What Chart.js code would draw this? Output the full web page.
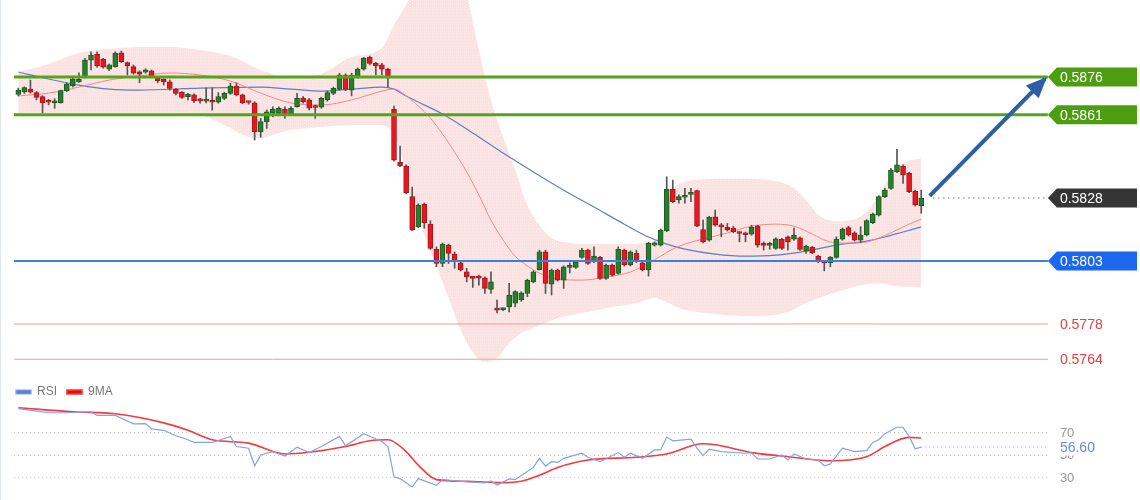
<!DOCTYPE html>
<html>
<head>
<meta charset="utf-8">
<script src="https://cdn.jsdelivr.net/npm/chart.js@4.4.1/dist/chart.umd.min.js"></script>
<style>
  html, body { margin: 0; padding: 0; background: #fff; }
  #contenedor { position: relative; width: 1140px; height: 500px; overflow: hidden; background: #fff; }
  #contenedor::before { content: ''; position: absolute; left: 0; top: 0; bottom: 0; width: 1px; background: #e3e8ee; z-index: 2; }
  #grafica_precio { position: absolute; left: 0; top: 0; }
  #grafica_rsi { position: absolute; left: 0; top: 380px; }
</style>
</head>
<body>
<div id="contenedor">
  <canvas id="grafica_precio" width="1140" height="380"></canvas>
  <canvas id="grafica_rsi" width="1140" height="120"></canvas>
</div>
<script>
// Velas (una por periodo)
const aperturas = [
  0.58691,0.58702,0.58712,0.58698,0.58682,0.58663,0.58658,0.58658,0.58706,0.58725,
  0.58741,0.58757,0.58827,0.58851,0.58831,0.58791,0.58801,0.58856,0.58817,0.58801,
  0.58781,0.58779,0.58785,0.58755,0.58751,0.58741,0.58711,0.58699,0.58682,0.58689,
  0.58668,0.58664,0.58665,0.58660,0.58675,0.58695,0.58724,0.58689,0.58661,0.58658,
  0.58543,0.58583,0.58616,0.58616,0.58632,0.58613,0.58642,0.58675,0.58669,0.58641,
  0.58640,0.58669,0.58695,0.58711,0.58768,0.58708,0.58759,0.58791,0.58838,0.58814,
  0.58808,0.58791,0.58632,0.58421,0.58407,0.58285,0.58166,0.58256,0.58176,0.58076,
  0.58020,0.58093,0.58057,0.58023,0.57987,0.57967,0.57964,0.57963,0.57917,0.57842,
  0.57837,0.57848,0.57862,0.57875,0.57901,0.57947,0.57994,0.58066,0.57938,0.57994,
  0.57954,0.58004,0.58004,0.58044,0.58073,0.58027,0.58044,0.57961,0.58014,0.57981,
  0.58073,0.58014,0.58060,0.58023,0.57994,0.58093,0.58093,0.58150,0.58314,0.58272,
  0.58283,0.58294,0.58309,0.58155,0.58113,0.58205,0.58168,0.58163,0.58159,0.58141,
  0.58136,0.58136,0.58168,0.58094,0.58092,0.58080,0.58116,0.58126,0.58116,0.58122,
  0.58070,0.58084,0.58049,0.58024,0.58023,0.58044,0.58116,0.58162,0.58142,0.58113,
  0.58133,0.58182,0.58212,0.58285,0.58318,0.58384,0.58407,0.58378,0.58307,0.58249
];
const maximos = [
  0.58716,0.58721,0.58748,0.58702,0.58686,0.58671,0.58674,0.58708,0.58737,0.58757,
  0.58777,0.58834,0.58860,0.58860,0.58834,0.58812,0.58860,0.58863,0.58820,0.58808,
  0.58785,0.58793,0.58788,0.58759,0.58753,0.58748,0.58715,0.58702,0.58695,0.58693,
  0.58675,0.58716,0.58716,0.58698,0.58700,0.58735,0.58737,0.58692,0.58662,0.58662,
  0.58596,0.58629,0.58642,0.58642,0.58642,0.58643,0.58695,0.58682,0.58675,0.58649,
  0.58680,0.58704,0.58720,0.58775,0.58773,0.58775,0.58796,0.58838,0.58843,0.58818,
  0.58814,0.58795,0.58645,0.58486,0.58411,0.58323,0.58257,0.58260,0.58190,0.58086,
  0.58101,0.58097,0.58066,0.58027,0.58001,0.57969,0.57974,0.57967,0.57987,0.57875,
  0.57843,0.57941,0.57912,0.57908,0.57958,0.57991,0.58073,0.58073,0.57998,0.57998,
  0.58011,0.58022,0.58031,0.58080,0.58077,0.58086,0.58048,0.58018,0.58018,0.58086,
  0.58077,0.58070,0.58073,0.58027,0.58104,0.58106,0.58157,0.58364,0.58351,0.58292,
  0.58318,0.58318,0.58311,0.58192,0.58207,0.58232,0.58179,0.58179,0.58168,0.58146,
  0.58145,0.58172,0.58172,0.58106,0.58105,0.58122,0.58120,0.58130,0.58160,0.58126,
  0.58093,0.58088,0.58053,0.58028,0.58048,0.58126,0.58161,0.58168,0.58146,0.58166,
  0.58194,0.58220,0.58289,0.58318,0.58398,0.58473,0.58411,0.58382,0.58311,0.58311
];
const minimos = [
  0.58685,0.58695,0.58696,0.58669,0.58618,0.58649,0.58636,0.58656,0.58702,0.58721,
  0.58739,0.58755,0.58788,0.58799,0.58795,0.58785,0.58799,0.58817,0.58768,0.58771,
  0.58737,0.58775,0.58757,0.58737,0.58728,0.58708,0.58689,0.58675,0.58669,0.58658,
  0.58656,0.58657,0.58629,0.58656,0.58670,0.58691,0.58685,0.58654,0.58652,0.58510,
  0.58521,0.58556,0.58602,0.58608,0.58596,0.58608,0.58640,0.58656,0.58629,0.58596,
  0.58636,0.58664,0.58690,0.58708,0.58706,0.58685,0.58755,0.58787,0.58808,0.58768,
  0.58768,0.58721,0.58426,0.58404,0.58297,0.58150,0.58162,0.58160,0.58076,0.58007,
  0.58007,0.58020,0.58001,0.57990,0.57947,0.57925,0.57934,0.57901,0.57901,0.57824,
  0.57833,0.57828,0.57848,0.57870,0.57888,0.57943,0.57994,0.57901,0.57895,0.57950,
  0.57921,0.57982,0.58000,0.58040,0.58016,0.58023,0.57957,0.57957,0.57970,0.57977,
  0.58010,0.58010,0.58023,0.57990,0.57970,0.58089,0.58089,0.58146,0.58261,0.58259,
  0.58259,0.58265,0.58166,0.58102,0.58109,0.58168,0.58126,0.58149,0.58142,0.58106,
  0.58106,0.58132,0.58084,0.58073,0.58076,0.58076,0.58076,0.58073,0.58112,0.58072,
  0.58060,0.58059,0.58023,0.57991,0.58007,0.58040,0.58112,0.58129,0.58109,0.58102,
  0.58129,0.58178,0.58208,0.58281,0.58314,0.58380,0.58338,0.58301,0.58248,0.58219
];
const cierres = [
  0.58708,0.58718,0.58700,0.58679,0.58658,0.58660,0.58665,0.58706,0.58732,0.58751,
  0.58751,0.58827,0.58847,0.58804,0.58799,0.58808,0.58854,0.58821,0.58804,0.58775,
  0.58771,0.58788,0.58761,0.58745,0.58741,0.58715,0.58695,0.58679,0.58691,0.58666,
  0.58665,0.58666,0.58660,0.58682,0.58695,0.58724,0.58689,0.58658,0.58659,0.58543,
  0.58583,0.58622,0.58633,0.58636,0.58613,0.58636,0.58675,0.58662,0.58636,0.58639,
  0.58675,0.58698,0.58715,0.58768,0.58711,0.58768,0.58791,0.58834,0.58814,0.58804,
  0.58791,0.58759,0.58430,0.58407,0.58301,0.58153,0.58252,0.58182,0.58080,0.58020,
  0.58097,0.58060,0.58027,0.57994,0.57967,0.57961,0.57962,0.57921,0.57947,0.57835,
  0.57839,0.57895,0.57908,0.57904,0.57954,0.57987,0.58066,0.57941,0.57994,0.57954,
  0.58007,0.58014,0.58027,0.58073,0.58020,0.58049,0.57961,0.58014,0.57974,0.58076,
  0.58014,0.58066,0.58027,0.57994,0.58100,0.58102,0.58153,0.58314,0.58265,0.58285,
  0.58286,0.58297,0.58168,0.58106,0.58203,0.58172,0.58165,0.58153,0.58146,0.58139,
  0.58134,0.58163,0.58093,0.58092,0.58094,0.58118,0.58080,0.58106,0.58133,0.58076,
  0.58089,0.58063,0.58027,0.58022,0.58044,0.58117,0.58157,0.58133,0.58113,0.58133,
  0.58190,0.58216,0.58285,0.58311,0.58391,0.58411,0.58371,0.58305,0.58252,0.58280
];

// Bandas de Bollinger y medias moviles: [periodo, precio]
const banda_superior = [
  [0,0.58780],[5,0.58812],[10,0.58855],[15,0.58871],[20,0.58879],[25,0.58879],[30,0.58867],[35,0.58843],
  [40,0.58788],[45,0.58756],[50,0.58772],[55,0.58839],[60,0.58875],[62,0.58966],[64,0.59046],[66,0.59145],
  [68,0.59224],[70,0.59244],[72,0.59205],[74,0.59086],[76,0.58867],[78,0.58669],[80,0.58522],[82,0.58391],
  [84,0.58252],[86,0.58172],[88,0.58121],[90,0.58105],[95,0.58097],[100,0.58097],[103,0.58101],[105,0.58113],
  [106,0.58145],[107,0.58252],[108,0.58311],[110,0.58343],[115,0.58355],[120,0.58355],[125,0.58347],[128,0.58319],
  [130,0.58272],[132,0.58212],[135,0.58188],[138,0.58196],[140,0.58224],[142,0.58292],[144,0.58371],[146,0.58419],[149,0.58438]
];
const banda_inferior = [
  [0,0.58617],[10,0.58617],[20,0.58617],[25,0.58617],[30,0.58609],[33,0.58581],[35,0.58558],[38,0.58522],
  [40,0.58518],[43,0.58538],[45,0.58550],[50,0.58562],[55,0.58570],[60,0.58570],[62,0.58530],[63,0.58470],
  [65,0.58272],[67,0.58133],[69,0.58010],[71,0.57883],[73,0.57756],[75,0.57668],[77,0.57629],[79,0.57644],
  [81,0.57704],[83,0.57744],[85,0.57764],[88,0.57795],[93,0.57823],[98,0.57847],[102,0.57863],[105,0.57883],
  [107,0.57867],[109,0.57843],[112,0.57827],[117,0.57815],[122,0.57811],[127,0.57827],[130,0.57863],[133,0.57891],
  [136,0.57914],[139,0.57934],[142,0.57942],[145,0.57930],[149,0.57926]
];
const media_roja = [
  [0,0.58685],[5,0.58696],[10,0.58720],[15,0.58748],[20,0.58764],[25,0.58776],[30,0.58768],[35,0.58744],
  [40,0.58696],[45,0.58657],[50,0.58649],[55,0.58669],[60,0.58704],[62,0.58712],[64,0.58685],[66,0.58645],
  [68,0.58597],[70,0.58534],[72,0.58462],[74,0.58383],[76,0.58292],[78,0.58192],[80,0.58113],[82,0.58049],
  [84,0.58010],[86,0.57982],[89,0.57958],[93,0.57954],[97,0.57966],[101,0.57986],[104,0.58022],[106,0.58049],
  [108,0.58077],[110,0.58097],[113,0.58117],[117,0.58141],[121,0.58168],[125,0.58176],[128,0.58168],[131,0.58137],
  [134,0.58105],[137,0.58101],[140,0.58105],[142,0.58121],[145,0.58153],[147,0.58176],[149,0.58196]
];
const media_azul = [
  [0,0.58780],[5,0.58752],[10,0.58728],[15,0.58712],[20,0.58708],[30,0.58716],[40,0.58720],[45,0.58712],
  [50,0.58704],[55,0.58712],[60,0.58720],[62,0.58712],[64,0.58685],[66,0.58661],[70,0.58613],[75,0.58538],
  [80,0.58458],[85,0.58383],[90,0.58311],[95,0.58244],[100,0.58176],[104,0.58125],[107,0.58097],[110,0.58077],
  [115,0.58057],[120,0.58049],[125,0.58053],[130,0.58069],[135,0.58093],[140,0.58109],[143,0.58125],[146,0.58145],[149,0.58165]
];

// Niveles horizontales y flecha de objetivo
const niveles = [0.5876, 0.5861, 0.5828, 0.5803, 0.5778, 0.5764];
const textos_niveles = ['0.5876', '0.5861', '0.5828', '0.5803', '0.5778', '0.5764'];
const flecha = [[150.4, 0.58288], [169.4, 0.58752]];

// RSI y su media de 9: [periodo, valor]
const rsi_valores = [
  [0,90.7],[3,88.6],[5,87.1],[8,87.1],[12,88],[13,84.7],[16,84.7],[19,77.2],[21,77.5],[22,72.7],[24,71.5],
  [26,66.7],[28,63.1],[29,60.7],[32,60.7],[35,66.1],[36,57.1],[38,55.6],[39,40],[40,49.6],[42,52.6],[44,48.7],
  [46,56.5],[48,51.7],[50,57.1],[53,66.1],[54,57.7],[57,68.5],[60,61.6],[61,57.1],[62,30.1],[63,28.6],[65,21.1],
  [66,28.6],[69,22.6],[70,27.7],[74,25.6],[77,24.7],[78,26.5],[79,22.9],[81,28.3],[82,27.7],[85,38.5],[86,46.6],
  [87,39.7],[88,43.6],[89,43],[90,46.6],[93,51.1],[94,47.5],[96,43.6],[99,51.7],[100,47.5],[101,51.1],[103,46.6],
  [105,54.1],[106,54.1],[107,65.5],[108,62.2],[111,63.7],[112,55.6],[113,49],[114,54.7],[116,52.6],[120,51.1],
  [121,51.7],[122,46],[124,46],[126,49.6],[127,45.1],[128,50.5],[130,46],[132,45.1],[133,40],[134,41.5],[136,55.6],
  [138,52.6],[140,53.5],[141,60.7],[142,63.1],[143,68.5],[145,74.2],[146,74.2],[147,66.1],[148,55],[149,56.6]
];
const rsi_media = [
  [0,91.6],[9,88],[16,86.2],[24,78.1],[28,71.5],[32,63.1],[38,60.1],[44,50.5],[48,52],[54,57.1],[58,62.2],
  [61,63.1],[64,52.6],[66,40.6],[69,27.7],[74,26.2],[80,25],[83,26.2],[86,31.6],[89,38.5],[94,45.1],[102,47.5],
  [107,50.5],[113,59.5],[115,58.6],[121,51.7],[126,48.7],[134,44.5],[140,48.1],[143,57.1],[147,65.2],[149,64.6]
];
const rsi_ultimo = 56.60;
const rsi_marcas = [70, 50, 30];

// Encuadre horizontal comun (periodos)
const x_min = -2.03;
const x_max = 185.1;
const inicio_niveles = -0.71;
const fin_niveles = 169.9;

const estilos_niveles = [
  { linea: '#55a51b', grosor: 3, etiqueta: '#4c9e10', texto: '#fff' },
  { linea: '#55a51b', grosor: 3, etiqueta: '#4c9e10', texto: '#fff' },
  { linea: '#333', grosor: 1, guiones: [1, 4], inicio: 151, etiqueta: '#353535', texto: '#fff' },
  { linea: '#3d7de8', grosor: 2, etiqueta: '#1b67ee', texto: '#fff' },
  { linea: '#f39a9a', grosor: 1, etiqueta: null, texto: '#f03c3c' },
  { linea: '#f39a9a', grosor: 1, etiqueta: null, texto: '#f03c3c' }
];
const color_flecha = '#2d5fa9';
const fuente_texto = '"Liberation Sans", Arial, sans-serif';

Chart.defaults.font.family = fuente_texto;
Chart.defaults.color = '#777';

const a_puntos = lista => lista.map(p => ({ x: p[0], y: p[1] }));
const indices = cierres.map((_, i) => i);
const es_alcista = i => cierres[i] >= aperturas[i];

// Relleno punteado de la banda, como en la imagen original
function crear_trama() {
    const lienzo = document.createElement('canvas');
    lienzo.width = 4;
    lienzo.height = 3;
    const c = lienzo.getContext('2d');
    c.fillStyle = '#fde1e1';
    c.fillRect(0, 0, 4, 3);
    c.fillStyle = '#fbeeee';
    c.fillRect(0, 0, 1, 1);
    c.fillRect(2, 1, 1, 1);
    return c.createPattern(lienzo, 'repeat');
}

const datasets_niveles = niveles.map((nivel, i) => {
    const estilo = estilos_niveles[i];
    return {
        type: 'line',
        data: [{ x: estilo.inicio !== undefined ? estilo.inicio : inicio_niveles, y: nivel }, { x: fin_niveles, y: nivel }],
        borderColor: estilo.linea,
        borderWidth: estilo.grosor,
        borderDash: estilo.guiones || [],
        borderCapStyle: 'butt',
        pointRadius: 0,
        fill: false,
        order: 0
    };
});

const etiquetas_plugin = {
    id: 'etiquetas_precio',
    afterDatasetsDraw(chart) {
        const ctx = chart.ctx;
        const escala_x = chart.scales.x;
        const escala_y = chart.scales.y;

        // punta de la flecha
        const meta = chart.getDatasetMeta(chart.data.datasets.length - 1);
        const p0 = meta.data[0];
        const p1 = meta.data[1];
        const angulo = Math.atan2(p1.y - p0.y, p1.x - p0.x);
        ctx.save();
        ctx.translate(p1.x, p1.y);
        ctx.rotate(angulo);
        ctx.beginPath();
        ctx.moveTo(3, 0);
        ctx.lineTo(-18, -9);
        ctx.lineTo(-18, 9);
        ctx.closePath();
        ctx.fillStyle = color_flecha;
        ctx.fill();
        ctx.restore();

        // etiquetas de los niveles
        const x_punta = escala_x.getPixelForValue(fin_niveles);
        ctx.save();
        ctx.font = '14px ' + fuente_texto;
        ctx.textBaseline = 'middle';
        niveles.forEach((nivel, i) => {
            const estilo = estilos_niveles[i];
            const y = escala_y.getPixelForValue(nivel);
            if (estilo.etiqueta) {
                ctx.beginPath();
                ctx.moveTo(x_punta, y);
                ctx.lineTo(x_punta + 9, y - 9.5);
                ctx.lineTo(chart.width - 3, y - 9.5);
                ctx.lineTo(chart.width - 3, y + 9.5);
                ctx.lineTo(x_punta + 9, y + 9.5);
                ctx.closePath();
                ctx.fillStyle = estilo.etiqueta;
                ctx.fill();
            }
            ctx.fillStyle = estilo.texto;
            ctx.fillText(textos_niveles[i], x_punta + 12, y + 1);
        });
        ctx.restore();
    }
};

const grafica_precio = new Chart(document.getElementById('grafica_precio').getContext('2d'), {
    type: 'bar',
    data: {
        datasets: [
            {
                type: 'bar',
                data: indices.map(i => ({ x: i, y: [aperturas[i], cierres[i]] })),
                backgroundColor: indices.map(i => es_alcista(i) ? '#26802b' : '#e8161f'),
                borderColor: indices.map(i => es_alcista(i) ? '#1d5a21' : '#a8151b'),
                borderWidth: 1,
                borderSkipped: false,
                barThickness: 5,
                minBarLength: 2,
                grouped: false,
                order: 1
            },
            {
                type: 'bar',
                data: indices.map(i => ({ x: i, y: [minimos[i], maximos[i]] })),
                backgroundColor: '#555',
                barThickness: 1,
                grouped: false,
                order: 2
            },
            {
                type: 'line',
                data: a_puntos(media_roja),
                borderColor: '#f28a8a',
                borderWidth: 1,
                pointRadius: 0,
                cubicInterpolationMode: 'monotone',
                fill: false,
                order: 3
            },
            {
                type: 'line',
                data: a_puntos(media_azul),
                borderColor: '#5f7fc0',
                borderWidth: 1.2,
                pointRadius: 0,
                cubicInterpolationMode: 'monotone',
                fill: false,
                order: 3
            },
            {
                type: 'line',
                data: a_puntos(banda_superior),
                borderWidth: 0,
                borderColor: 'rgba(0,0,0,0)',
                backgroundColor: crear_trama(),
                pointRadius: 0,
                cubicInterpolationMode: 'monotone',
                fill: '+1',
                order: 4
            },
            {
                type: 'line',
                data: a_puntos(banda_inferior),
                borderWidth: 0,
                borderColor: 'rgba(0,0,0,0)',
                pointRadius: 0,
                cubicInterpolationMode: 'monotone',
                fill: false,
                order: 4
            },
            ...datasets_niveles,
            {
                type: 'line',
                data: a_puntos(flecha),
                borderColor: color_flecha,
                borderWidth: 4,
                borderCapStyle: 'butt',
                pointRadius: 0,
                fill: false,
                order: -1
            }
        ]
    },
    options: {
        responsive: false,
        maintainAspectRatio: false,
        devicePixelRatio: 1,
        animation: false,
        events: [],
        layout: { padding: { left: 6, right: 0, top: 0, bottom: 0 } },
        plugins: { legend: { display: false }, tooltip: { enabled: false } },
        scales: {
            x: { type: 'linear', min: x_min, max: x_max, display: false, offset: false },
            y: { min: 0.575576, max: 0.590656, display: false }
        }
    },
    plugins: [etiquetas_plugin]
});

const rsi_plugin = {
    id: 'rejilla_rsi',
    beforeDatasetsDraw(chart) {
        const ctx = chart.ctx;
        const x0 = chart.scales.x.getPixelForValue(inicio_niveles);
        const x1 = chart.scales.x.getPixelForValue(fin_niveles);
        ctx.save();
        ctx.strokeStyle = '#c9c9c9';
        ctx.lineWidth = 1;
        ctx.setLineDash([1, 3]);
        rsi_marcas.forEach(marca => {
            const y = Math.round(chart.scales.y.getPixelForValue(marca)) + 0.5;
            ctx.beginPath();
            ctx.moveTo(x0, y);
            ctx.lineTo(x1, y);
            ctx.stroke();
        });
        ctx.restore();
    },
    afterDatasetsDraw(chart) {
        const ctx = chart.ctx;
        const x_texto = chart.scales.x.getPixelForValue(fin_niveles) + 12;
        ctx.save();
        ctx.font = '13px ' + fuente_texto;
        ctx.textBaseline = 'middle';
        ctx.fillStyle = '#999';
        rsi_marcas.forEach(marca => {
            ctx.fillText(String(marca), x_texto, chart.scales.y.getPixelForValue(marca) + 1);
        });
        const y = chart.scales.y.getPixelForValue(rsi_ultimo);
        ctx.fillStyle = '#fff';
        ctx.fillRect(x_texto - 2, y - 8, 44, 16.5);
        ctx.font = '14px ' + fuente_texto;
        ctx.fillStyle = '#6a8ae6';
        ctx.fillText(rsi_ultimo.toFixed(2), x_texto, y + 1);
        ctx.restore();
    }
};

const grafica_rsi = new Chart(document.getElementById('grafica_rsi').getContext('2d'), {
    type: 'line',
    data: {
        datasets: [
            {
                label: 'RSI',
                data: a_puntos(rsi_valores),
                borderColor: '#86a0ec',
                backgroundColor: '#5b7fe0',
                borderWidth: 1.2,
                pointRadius: 0,
                tension: 0,
                clip: false
            },
            {
                label: '9MA',
                data: a_puntos(rsi_media),
                borderColor: '#f53a3a',
                backgroundColor: '#ff0000',
                borderWidth: 1.6,
                pointRadius: 0,
                cubicInterpolationMode: 'monotone',
                clip: false
            },
            {
                label: 'ultimo',
                data: [{ x: 149, y: rsi_ultimo }, { x: fin_niveles, y: rsi_ultimo }],
                borderColor: '#8ca6ee',
                borderWidth: 1,
                borderDash: [1, 3],
                pointRadius: 0
            }
        ]
    },
    options: {
        responsive: false,
        maintainAspectRatio: false,
        devicePixelRatio: 1,
        animation: false,
        events: [],
        layout: { padding: { left: 6, right: 0, top: -4, bottom: 0 } },
        plugins: {
            tooltip: { enabled: false },
            legend: {
                display: true,
                position: 'top',
                align: 'start',
                labels: {
                    boxWidth: 15,
                    boxHeight: 4,
                    padding: 10,
                    color: '#777',
                    font: { size: 12 },
                    filter: item => item.datasetIndex < 2
                }
            }
        },
        scales: {
            x: { type: 'linear', min: x_min, max: x_max, display: false },
            y: { min: 9.56, max: 91.33, display: false }
        }
    },
    plugins: [rsi_plugin]
});
</script>
</body>
</html>
